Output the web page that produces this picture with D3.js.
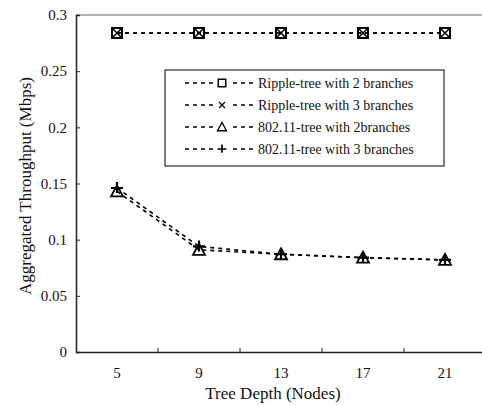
<!DOCTYPE html>
<html><head><meta charset="utf-8">
<script src="https://cdn.jsdelivr.net/npm/d3@7"></script>
<style>body{margin:0;background:#fff;} svg{display:block;} svg text{font-family:"Liberation Serif","Times New Roman",serif !important;}</style>
</head><body>
<svg id="chart" width="482" height="406"></svg>
<script>
const categories = ["5", "9", "13", "17", "21"];
const ripple2 = [0.284, 0.284, 0.284, 0.284, 0.284];
const ripple3 = [0.284, 0.284, 0.284, 0.284, 0.284];
const wifi2 = [0.143, 0.091, 0.087, 0.084, 0.082];
const wifi3 = [0.146, 0.094, 0.087, 0.084, 0.082];
const yTicks = [0, 0.05, 0.1, 0.15, 0.2, 0.25, 0.3];
const seriesNames = ["Ripple-tree with 2 branches", "Ripple-tree with 3 branches", "802.11-tree with 2branches", "802.11-tree with 3 branches"];

const series = [
  {name: seriesNames[0], values: ripple2, marker: "square"},
  {name: seriesNames[1], values: ripple3, marker: "x"},
  {name: seriesNames[2], values: wifi2, marker: "triangle"},
  {name: seriesNames[3], values: wifi3, marker: "plus"}
];

const svg = d3.select("#chart");
const mLeft = 76, mRight = 486, mTop = 15, mBottom = 352;
const x = d3.scaleBand().domain(categories).range([mLeft, mRight]).padding(0);
const y = d3.scaleLinear().domain([0, 0.3]).range([mBottom, mTop]);

// top frame line (grey)
svg.append("line").attr("x1", mLeft).attr("x2", 482).attr("y1", mTop).attr("y2", mTop)
  .attr("stroke", "#999").attr("stroke-width", 1.5);

// y axis
const yAxis = svg.append("g").attr("transform", `translate(${mLeft},0)`)
  .call(d3.axisLeft(y).tickValues(yTicks).tickSize(-4).tickPadding(9).tickFormat(d => String(+d.toFixed(2))));
yAxis.attr("font-family", "Liberation Serif");
yAxis.select(".domain").attr("stroke", "#222").attr("stroke-width", 1.5);
yAxis.selectAll(".tick line").attr("stroke", "#222");
yAxis.selectAll("text").attr("font-size", 15).attr("fill", "#111");

// x axis
const xAxis = svg.append("g").attr("transform", `translate(0,${mBottom})`)
  .call(d3.axisBottom(x).tickSize(0).tickPadding(15));
xAxis.attr("font-family", "Liberation Serif");
xAxis.select(".domain").attr("stroke", "#222").attr("stroke-width", 1.5);
xAxis.selectAll("text").attr("font-size", 15).attr("fill", "#111");
// boundary ticks between bands (inward)
svg.append("g").selectAll("line").data(categories.slice(1)).join("line")
  .attr("x1", d => x(d)).attr("x2", d => x(d))
  .attr("y1", mBottom).attr("y2", mBottom - 4).attr("stroke", "#222");

// titles
svg.append("text").attr("x", 273).attr("y", 399).attr("text-anchor", "middle")
  .attr("font-size", 17).attr("fill", "#111").text("Tree Depth (Nodes)");
svg.append("text").attr("transform", "translate(31,186) rotate(-90)").attr("text-anchor", "middle")
  .attr("font-size", 17).attr("fill", "#111").text("Aggregated Throughput (Mbps)");

function drawMarker(g, type, cx, cy) {
  const s = 5;
  if (type === "square") {
    g.append("rect").attr("x", cx - s).attr("y", cy - s).attr("width", 2 * s).attr("height", 2 * s)
      .attr("fill", "none").attr("stroke", "#000").attr("stroke-width", 2);
  } else if (type === "x") {
    g.append("path").attr("d", `M${cx - s + 1},${cy - s + 1}L${cx + s - 1},${cy + s - 1}M${cx - s + 1},${cy + s - 1}L${cx + s - 1},${cy - s + 1}`)
      .attr("stroke", "#000").attr("stroke-width", 1.6);
  } else if (type === "triangle") {
    g.append("path").attr("d", `M${cx},${cy - s - 1}L${cx + s + 1},${cy + s}L${cx - s - 1},${cy + s}Z`)
      .attr("fill", "none").attr("stroke", "#000").attr("stroke-width", 1.8);
  } else if (type === "plus") {
    g.append("path").attr("d", `M${cx - s - 1},${cy}L${cx + s + 1},${cy}M${cx},${cy - s - 1}L${cx},${cy + s}`)
      .attr("stroke", "#000").attr("stroke-width", 2.2);
  }
}

const line = d3.line().x((d, i) => x(categories[i]) + x.bandwidth() / 2).y(d => y(d));
series.forEach(s => {
  svg.append("path").datum(s.values).attr("d", line).attr("fill", "none")
    .attr("stroke", "#000").attr("stroke-width", 1.6).attr("stroke-dasharray", "4,4");
});
series.forEach(s => {
  const g = svg.append("g");
  s.values.forEach((v, i) => drawMarker(g, s.marker, x(categories[i]) + x.bandwidth() / 2, y(v)));
});

// legend
const lg = svg.append("g");
lg.append("rect").attr("x", 165).attr("y", 70).attr("width", 279).attr("height", 96)
  .attr("fill", "#fff").attr("stroke", "#000").attr("stroke-width", 1);
series.forEach((s, i) => {
  const ly = 83 + i * 22;
  lg.append("line").attr("x1", 185).attr("x2", 257).attr("y1", ly).attr("y2", ly)
    .attr("stroke", "#000").attr("stroke-width", 1.6).attr("stroke-dasharray", "4,4");
  lg.append("rect").attr("x", 215).attr("y", ly - 6).attr("width", 14).attr("height", 12).attr("fill", "#fff");
  const mg = lg.append("g").attr("transform", `translate(222,${ly}) scale(0.75) translate(-222,${-ly})`);
  drawMarker(mg, s.marker, 222, ly);
  lg.append("text").attr("x", 258).attr("y", ly + 5).attr("font-size", 14).attr("fill", "#111").text(s.name);
});
</script>
</body></html>
